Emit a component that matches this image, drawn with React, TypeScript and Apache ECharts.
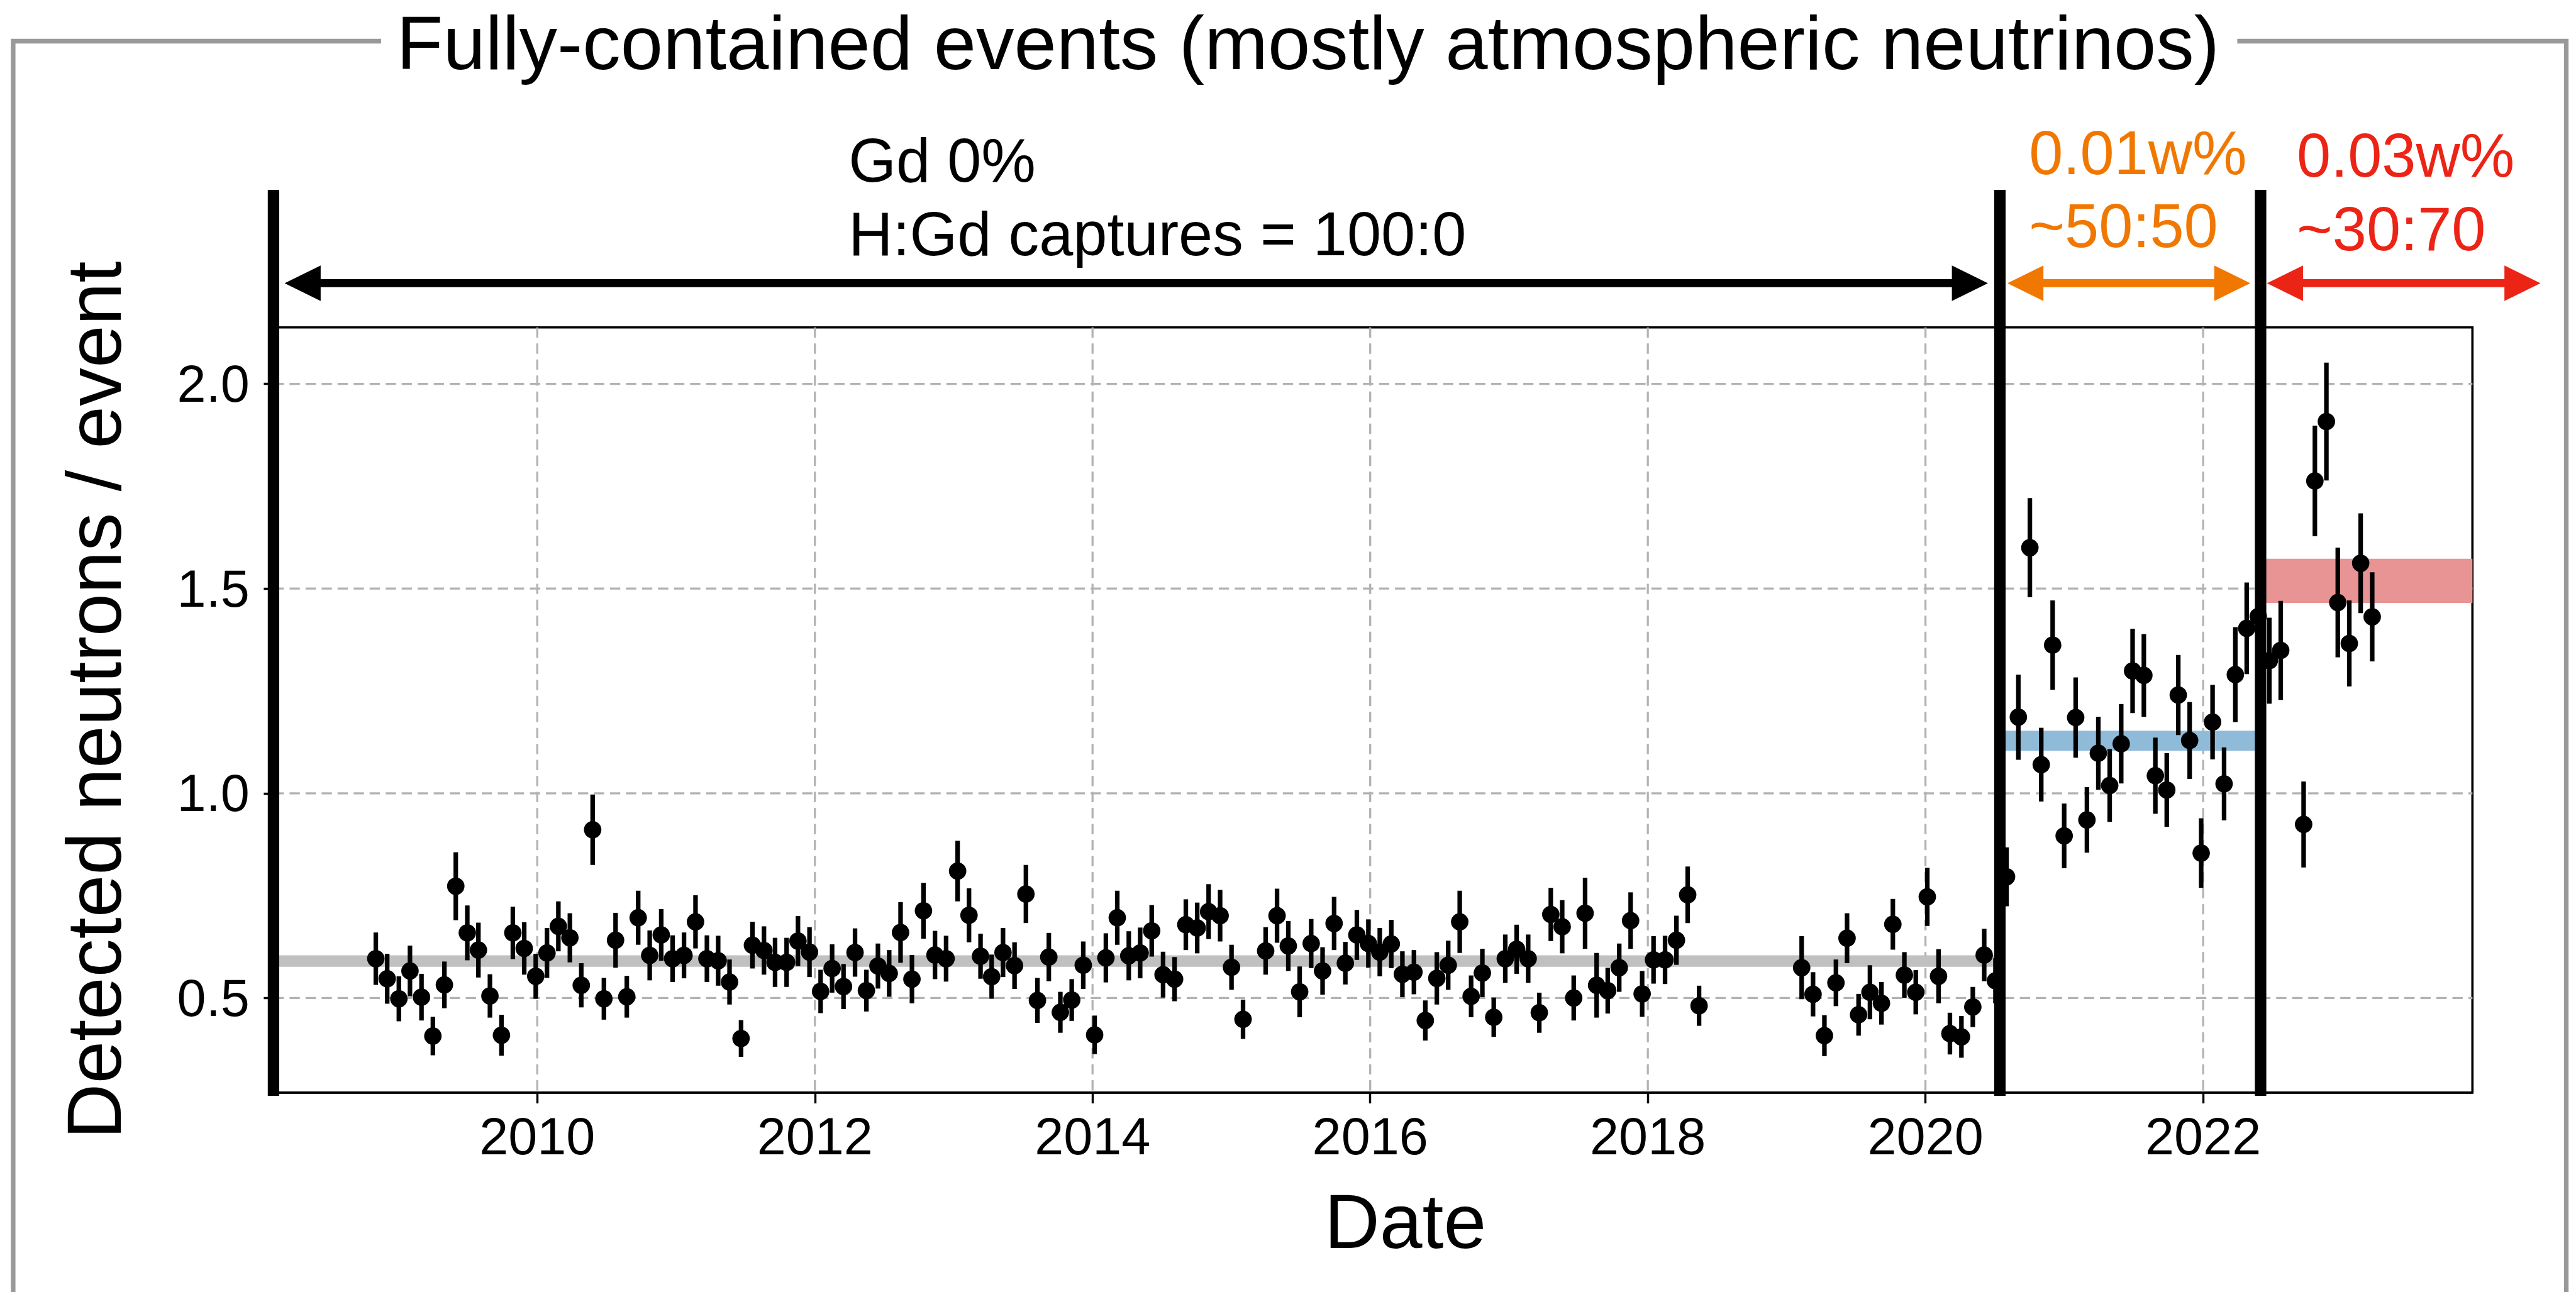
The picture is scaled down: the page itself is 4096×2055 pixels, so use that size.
import React, { useEffect, useRef } from 'react';
import * as echarts from 'echarts';

// ---------------------------------------------------------------------------
// Data: detected neutrons per fully-contained event, binned in time
// ---------------------------------------------------------------------------

// Pure water period (Gd 0%)
const PURE_DATES = [
  2008.837, 2008.919, 2009.003, 2009.083, 2009.166, 2009.248, 2009.331, 2009.413, 2009.496, 2009.576,
  2009.659, 2009.742, 2009.824, 2009.906, 2009.989, 2010.070, 2010.152, 2010.235, 2010.317, 2010.399,
  2010.480, 2010.564, 2010.645, 2010.727, 2010.810, 2010.893, 2010.975, 2011.057, 2011.140, 2011.222,
  2011.303, 2011.385, 2011.468, 2011.550, 2011.633, 2011.713, 2011.796, 2011.878, 2011.961, 2012.041,
  2012.124, 2012.206, 2012.289, 2012.371, 2012.454, 2012.535, 2012.617, 2012.699, 2012.782, 2012.865,
  2012.945, 2013.028, 2013.110, 2013.193, 2013.273, 2013.355, 2013.438, 2013.520, 2013.603, 2013.685,
  2013.768, 2013.850, 2013.933, 2014.015, 2014.096, 2014.178, 2014.261, 2014.343, 2014.426, 2014.508,
  2014.591, 2014.672, 2014.754, 2014.836, 2014.919, 2015.001, 2015.084, 2015.247, 2015.329, 2015.410,
  2015.492, 2015.575, 2015.657, 2015.740, 2015.821, 2015.904, 2015.987, 2016.069, 2016.152, 2016.232,
  2016.315, 2016.397, 2016.480, 2016.562, 2016.645, 2016.727, 2016.808, 2016.890, 2016.973, 2017.055,
  2017.138, 2017.218, 2017.301, 2017.383, 2017.466, 2017.548, 2017.631, 2017.711, 2017.794, 2017.876,
  2017.959, 2018.041, 2018.124, 2018.206, 2018.287, 2018.369, 2019.108, 2019.190, 2019.272, 2019.355,
  2019.435, 2019.518, 2019.600, 2019.683, 2019.765, 2019.848, 2019.930, 2020.013, 2020.094, 2020.176,
  2020.259, 2020.341, 2020.423, 2020.504,
];
const PURE_VALUES = [
  0.596, 0.547, 0.498, 0.566, 0.502, 0.407, 0.532, 0.773, 0.659, 0.617,
  0.505, 0.409, 0.659, 0.621, 0.553, 0.610, 0.675, 0.647, 0.531, 0.911,
  0.498, 0.641, 0.503, 0.696, 0.604, 0.654, 0.596, 0.604, 0.686, 0.596,
  0.591, 0.539, 0.401, 0.629, 0.616, 0.587, 0.587, 0.639, 0.612, 0.516,
  0.572, 0.528, 0.611, 0.518, 0.578, 0.560, 0.660, 0.546, 0.713, 0.605,
  0.596, 0.810, 0.702, 0.602, 0.552, 0.611, 0.579, 0.754, 0.494, 0.600,
  0.465, 0.495, 0.580, 0.410, 0.598, 0.696, 0.603, 0.610, 0.664, 0.557,
  0.546, 0.679, 0.671, 0.711, 0.701, 0.575, 0.448, 0.615, 0.701, 0.627,
  0.515, 0.633, 0.566, 0.682, 0.585, 0.654, 0.633, 0.612, 0.632, 0.558,
  0.563, 0.445, 0.548, 0.580, 0.686, 0.504, 0.561, 0.453, 0.596, 0.619,
  0.596, 0.464, 0.704, 0.674, 0.500, 0.707, 0.531, 0.518, 0.574, 0.689,
  0.510, 0.593, 0.593, 0.641, 0.752, 0.481, 0.574, 0.509, 0.408, 0.537,
  0.646, 0.459, 0.514, 0.487, 0.680, 0.556, 0.514, 0.747, 0.553, 0.413,
  0.405, 0.478, 0.605, 0.542,
];
const PURE_ERRORS = [
  0.064, 0.061, 0.055, 0.062, 0.057, 0.047, 0.057, 0.083, 0.067, 0.067,
  0.053, 0.050, 0.064, 0.064, 0.055, 0.061, 0.061, 0.060, 0.054, 0.086,
  0.051, 0.067, 0.051, 0.066, 0.061, 0.063, 0.057, 0.056, 0.065, 0.057,
  0.061, 0.055, 0.045, 0.057, 0.059, 0.060, 0.060, 0.061, 0.061, 0.053,
  0.059, 0.055, 0.059, 0.051, 0.055, 0.057, 0.074, 0.059, 0.068, 0.059,
  0.056, 0.074, 0.066, 0.055, 0.054, 0.060, 0.057, 0.071, 0.055, 0.059,
  0.050, 0.051, 0.058, 0.047, 0.060, 0.066, 0.060, 0.062, 0.063, 0.056,
  0.054, 0.062, 0.062, 0.067, 0.063, 0.055, 0.048, 0.058, 0.066, 0.061,
  0.062, 0.060, 0.058, 0.065, 0.052, 0.061, 0.059, 0.059, 0.059, 0.056,
  0.054, 0.049, 0.064, 0.060, 0.076, 0.051, 0.059, 0.048, 0.059, 0.060,
  0.059, 0.049, 0.065, 0.065, 0.055, 0.087, 0.079, 0.056, 0.059, 0.069,
  0.056, 0.058, 0.059, 0.060, 0.069, 0.049, 0.077, 0.054, 0.050, 0.057,
  0.061, 0.051, 0.066, 0.052, 0.062, 0.056, 0.054, 0.071, 0.066, 0.051,
  0.051, 0.049, 0.064, 0.055,
];

// Gd 0.01 w% period
const GD01_DATES = [
  2020.584, 2020.669, 2020.752, 2020.834, 2020.916, 2020.999, 2021.082, 2021.163, 2021.245, 2021.327,
  2021.410, 2021.492, 2021.573, 2021.656, 2021.738, 2021.821, 2021.903, 2021.986, 2022.068, 2022.151,
  2022.232, 2022.314, 2022.397,
];
const GD01_VALUES = [
  0.796, 1.186, 1.600, 1.070, 1.362, 0.896, 1.185, 0.935, 1.098, 1.019,
  1.121, 1.299, 1.288, 1.043, 1.008, 1.240, 1.129, 0.854, 1.174, 1.023,
  1.290, 1.403, 1.432,
];
const GD01_ERRORS = [
  0.072, 0.104, 0.121, 0.090, 0.109, 0.079, 0.098, 0.080, 0.089, 0.089,
  0.097, 0.103, 0.101, 0.093, 0.090, 0.098, 0.094, 0.085, 0.091, 0.089,
  0.116, 0.112, 0.110,
];

// Gd 0.03 w% period
const GD03_DATES = [2022.477, 2022.559, 2022.724, 2022.805, 2022.888, 2022.970, 2023.053, 2023.135, 2023.218];
const GD03_VALUES = [1.324, 1.349, 0.924, 1.763, 1.908, 1.466, 1.366, 1.562, 1.431];
const GD03_ERRORS = [0.105, 0.121, 0.105, 0.135, 0.144, 0.134, 0.105, 0.122, 0.109];

// Expected level in each period (band low / high edges)
const MEAN_LO = [0.576, 1.104, 1.465];
const MEAN_HI = [0.604, 1.153, 1.573];

// Period boundaries (start of each loading phase)
const PHASE_EDGES = [2008.1, 2020.536, 2022.414];

// Axis ticks
const X_TICKS = [2010, 2012, 2014, 2016, 2018, 2020, 2022];
const Y_TICKS = [0.5, 1.0, 1.5, 2.0];

// Texts
const TITLE = 'Fully-contained events (mostly atmospheric neutrinos)';
const X_NAME = 'Date';
const Y_NAME = 'Detected neutrons / event';
const PHASE_LABELS = [
  ['Gd 0%', 'H:Gd captures = 100:0'],
  ['0.01w%', '~50:50'],
  ['0.03w%', '~30:70'],
];

// ---------------------------------------------------------------------------
// Layout and style
// ---------------------------------------------------------------------------
const S = 4096 / 4502;
const px = (v: number) => v * S;
const FONT = '"Liberation Sans", Arial, Helvetica, sans-serif';

const X_MIN = 2008.1;
const X_MAX = 2023.94;
const Y_MIN = 0.269;
const Y_MAX = 2.138;

const DIVIDER_BOTTOM = 0.261;
const DIVIDER_TOP = 2.474;
const ARROW_Y = 2.246;
const ARROW_SPANS = [
  [2008.18, 2020.45],
  [2020.59, 2022.34],
  [2022.46, 2024.43],
];

const PHASE_COLORS = ['#000000', '#f07800', '#ec2416'];
const BAND_COLORS = ['#c0c0c0', '#8fbad8', '#e89494'];
const GRID_COLOR = '#b3b3b3';
const FRAME_COLOR = '#999999';

const LABEL_LEFT = [1483, 3546, 4014];
const LABEL_LINE1_Y = [280.5, 267.5, 272];
const LABEL_LINE2_Y = [409.5, 395.5, 400.5];

function buildOption() {
  const points: number[][] = [];
  const add = (d: number[], v: number[], e: number[]) => {
    d.forEach((x, i) => points.push([x, v[i], e[i]]));
  };
  add(PURE_DATES, PURE_VALUES, PURE_ERRORS);
  add(GD01_DATES, GD01_VALUES, GD01_ERRORS);
  add(GD03_DATES, GD03_VALUES, GD03_ERRORS);

  const bandRows = MEAN_LO.map((lo, i) => [
    PHASE_EDGES[i],
    i + 1 < PHASE_EDGES.length ? PHASE_EDGES[i + 1] : X_MAX,
    lo,
    MEAN_HI[i],
    i,
  ]);

  const gridStyle = {
    stroke: GRID_COLOR,
    lineWidth: px(3.6),
    lineDash: [px(18), px(10)],
  };

  const textStyle = (text: string, size: number, color: string, align: string) => ({
    text,
    fill: color,
    fontSize: px(size),
    fontFamily: FONT,
    align,
    verticalAlign: 'middle',
  });

  const labelGraphics: any[] = [];
  PHASE_LABELS.forEach((lines, i) => {
    labelGraphics.push({
      type: 'text',
      x: px(LABEL_LEFT[i]),
      y: px(LABEL_LINE1_Y[i]),
      silent: true,
      style: textStyle(lines[0], 107, PHASE_COLORS[i], 'left'),
    });
    labelGraphics.push({
      type: 'text',
      x: px(LABEL_LEFT[i]),
      y: px(LABEL_LINE2_Y[i]),
      silent: true,
      style: textStyle(lines[1], 107, PHASE_COLORS[i], 'left'),
    });
  });

  return {
    animation: false,
    backgroundColor: '#ffffff',
    grid: {
      left: px(478),
      top: px(572.4),
      width: px(4321 - 478),
      height: px(1910 - 572.4),
      show: true,
      borderColor: '#000000',
      borderWidth: px(4),
      backgroundColor: 'transparent',
    },
    xAxis: {
      type: 'value',
      min: X_MIN,
      max: X_MAX,
      axisLine: { show: true, onZero: false, lineStyle: { color: '#000', width: px(4) } },
      axisTick: {
        show: true,
        length: px(19),
        customValues: X_TICKS,
        lineStyle: { color: '#000', width: px(3.8) },
      },
      axisLabel: {
        customValues: X_TICKS,
        formatter: (v: number) => String(Math.round(v)),
        fontSize: px(91),
        fontFamily: FONT,
        color: '#000',
        margin: px(31),
      },
      splitLine: { show: false },
    },
    yAxis: {
      type: 'value',
      min: Y_MIN,
      max: Y_MAX,
      axisLine: { show: true, onZero: false, lineStyle: { color: '#000', width: px(4) } },
      axisTick: {
        show: true,
        length: px(17),
        customValues: Y_TICKS,
        lineStyle: { color: '#000', width: px(3.8) },
      },
      axisLabel: {
        customValues: Y_TICKS,
        formatter: (v: number) => v.toFixed(1),
        fontSize: px(91),
        fontFamily: FONT,
        color: '#000',
        margin: px(42),
      },
      splitLine: { show: false },
    },
    series: [
      // vertical grid lines
      {
        type: 'custom',
        silent: true,
        clip: false,
        data: X_TICKS.map((x) => [x, Y_MIN]),
        encode: { x: 0, y: 1 },
        renderItem: (params: any, api: any) => {
          const cs = params.coordSys;
          const x = api.coord([api.value(0), api.value(1)])[0];
          return {
            type: 'line',
            shape: { x1: x, y1: cs.y, x2: x, y2: cs.y + cs.height },
            style: gridStyle,
          };
        },
      },
      // horizontal grid lines
      {
        type: 'custom',
        silent: true,
        clip: false,
        data: Y_TICKS.map((y) => [X_MIN, y]),
        encode: { x: 0, y: 1 },
        renderItem: (params: any, api: any) => {
          const cs = params.coordSys;
          const y = api.coord([api.value(0), api.value(1)])[1];
          return {
            type: 'line',
            shape: { x1: cs.x, y1: y, x2: cs.x + cs.width, y2: y },
            style: gridStyle,
          };
        },
      },
      // expected-level bands
      {
        type: 'custom',
        silent: true,
        clip: false,
        data: bandRows,
        encode: { x: [0, 1], y: [2, 3] },
        renderItem: (_p: any, api: any) => {
          const a = api.coord([api.value(0), api.value(3)]);
          const b = api.coord([api.value(1), api.value(2)]);
          return {
            type: 'rect',
            shape: { x: a[0], y: a[1], width: b[0] - a[0], height: b[1] - a[1] },
            style: { fill: BAND_COLORS[api.value(4)] },
          };
        },
      },
      // error bars
      {
        type: 'custom',
        silent: true,
        clip: false,
        data: points,
        encode: { x: 0, y: 1 },
        renderItem: (_p: any, api: any) => {
          const x = api.value(0);
          const v = api.value(1);
          const e = api.value(2);
          const top = api.coord([x, v + e]);
          const bot = api.coord([x, v - e]);
          return {
            type: 'line',
            shape: { x1: top[0], y1: top[1], x2: bot[0], y2: bot[1] },
            style: { stroke: '#000', lineWidth: px(8) },
          };
        },
      },
      // data points
      {
        type: 'scatter',
        silent: true,
        symbol: 'circle',
        symbolSize: px(30.6),
        itemStyle: { color: '#000', opacity: 1 },
        data: points.map((p) => [p[0], p[1]]),
      },
      // phase dividers
      {
        type: 'custom',
        silent: true,
        clip: false,
        data: PHASE_EDGES.map((x) => [x, DIVIDER_BOTTOM, DIVIDER_TOP]),
        encode: { x: 0, y: [1, 2] },
        renderItem: (_p: any, api: any) => {
          const a = api.coord([api.value(0), api.value(2)]);
          const b = api.coord([api.value(0), api.value(1)]);
          return {
            type: 'line',
            shape: { x1: a[0], y1: a[1], x2: b[0], y2: b[1] },
            style: { stroke: '#000', lineWidth: px(20), lineCap: 'butt' },
          };
        },
      },
      // phase arrows
      {
        type: 'custom',
        silent: true,
        clip: false,
        data: ARROW_SPANS.map((s, i) => [s[0], ARROW_Y, s[1], i]),
        encode: { x: [0, 2], y: 1 },
        renderItem: (_p: any, api: any) => {
          const a = api.coord([api.value(0), api.value(1)]);
          const b = api.coord([api.value(2), api.value(1)]);
          const color = PHASE_COLORS[api.value(3)];
          const hl = px(63);
          const hw = px(31);
          return {
            type: 'group',
            children: [
              {
                type: 'line',
                shape: { x1: a[0] + hl * 0.9, y1: a[1], x2: b[0] - hl * 0.9, y2: b[1] },
                style: { stroke: color, lineWidth: px(14) },
              },
              {
                type: 'polygon',
                shape: { points: [[a[0], a[1]], [a[0] + hl, a[1] - hw], [a[0] + hl, a[1] + hw]] },
                style: { fill: color },
              },
              {
                type: 'polygon',
                shape: { points: [[b[0], b[1]], [b[0] - hl, b[1] - hw], [b[0] - hl, b[1] + hw]] },
                style: { fill: color },
              },
            ],
          };
        },
      },
    ],
    graphic: [
      // outer frame, open at the top for the title
      {
        type: 'polyline',
        silent: true,
        shape: { points: [[px(666), px(72)], [px(23), px(72)], [px(23), px(2320)]] },
        style: { stroke: FRAME_COLOR, lineWidth: px(8), fill: null },
      },
      {
        type: 'polyline',
        silent: true,
        shape: { points: [[px(3910), px(72)], [px(4485), px(72)], [px(4485), px(2320)]] },
        style: { stroke: FRAME_COLOR, lineWidth: px(8), fill: null },
      },
      {
        type: 'text',
        x: px(2286),
        y: px(75),
        silent: true,
        style: textStyle(TITLE, 133, '#000', 'center'),
      },
      {
        type: 'text',
        x: px(2456),
        y: px(2135.5),
        silent: true,
        style: textStyle(X_NAME, 134, '#000', 'center'),
      },
      {
        type: 'text',
        x: px(165),
        y: px(1224),
        rotation: Math.PI / 2,
        silent: true,
        style: textStyle(Y_NAME, 134, '#000', 'center'),
      },
      ...labelGraphics,
    ],
  };
}

export default function App() {
  const ref = useRef<HTMLDivElement>(null);

  useEffect(() => {
    if (!ref.current) return;
    const chart = echarts.init(ref.current, null, { renderer: 'svg' });
    chart.setOption(buildOption() as any);
    return () => chart.dispose();
  }, []);

  return (
    <div
      ref={ref}
      style={{
        position: 'fixed',
        left: 0,
        top: 0,
        width: '4096px',
        height: '2055px',
        background: '#ffffff',
      }}
    />
  );
}
